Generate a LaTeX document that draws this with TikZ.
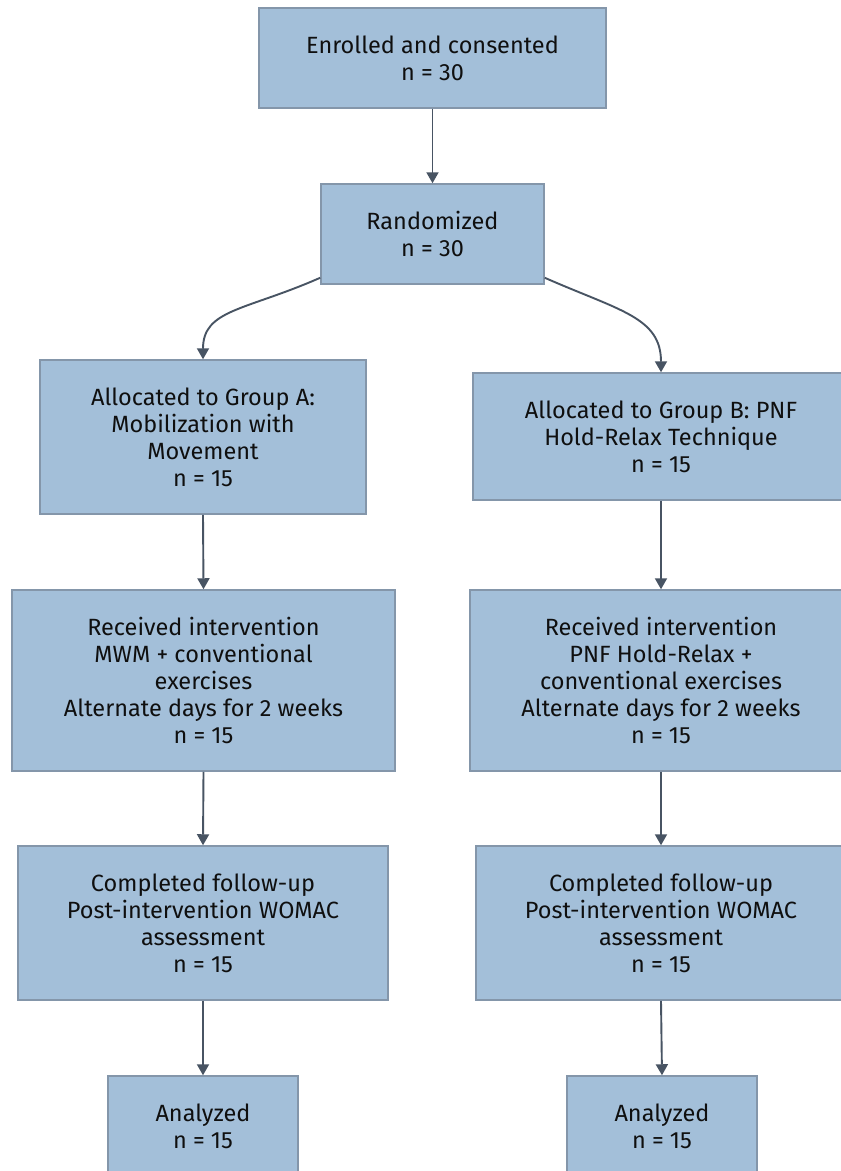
\documentclass[tikz,border=0pt]{standalone}
\usepackage{fontspec}
\setmainfont{Fira Sans}
\usetikzlibrary{arrows.meta}
\definecolor{boxfill}{RGB}{163,191,217}
\definecolor{boxline}{RGB}{132,150,170}
\definecolor{arrowc}{RGB}{72,84,99}
\definecolor{txt}{RGB}{15,15,15}
\begin{document}
\begin{tikzpicture}[x=1pt,y=-1pt,
  box/.style={draw=boxline,line width=1.5pt,fill=boxfill,align=center,
    text=txt,inner sep=0pt,
    font=\fontsize{23.5}{27}\selectfont},
  arr/.style={draw=arrowc,line width=1.9pt,-{Triangle[length=11pt,width=12pt]}}]
\useasboundingbox (0,0) rectangle (841,1171);
\clip (0,0) rectangle (841,1171);
\fill[white] (0,0) rectangle (841,1171);
\node[box,minimum width=347,minimum height=100] (enr) at (432.5,58) {Enrolled and consented\\n = 30};
\node[box,minimum width=223,minimum height=100] (rand) at (432.5,234) {Randomized\\n = 30};
\node[box,minimum width=326,minimum height=154] (ga) at (203,437) {Allocated to Group A:\\Mobilization with\\Movement\\n = 15};
\node[box,minimum width=376,minimum height=127] (gb) at (661,436.5) {Allocated to Group B: PNF\\Hold-Relax Technique\\n = 15};
\node[box,minimum width=383,minimum height=181] (ra) at (203.5,680.5) {Received intervention\\MWM + conventional\\exercises\\Alternate days for 2 weeks\\n = 15};
\node[box,minimum width=382,minimum height=181] (rb) at (661,680.5) {Received intervention\\PNF Hold-Relax +\\conventional exercises\\Alternate days for 2 weeks\\n = 15};
\node[box,minimum width=370,minimum height=154] (ca) at (203,923) {Completed follow-up\\Post-intervention WOMAC\\assessment\\n = 15};
\node[box,minimum width=370,minimum height=154] (cb) at (661,923) {Completed follow-up\\Post-intervention WOMAC\\assessment\\n = 15};
\node[box,minimum width=190,minimum height=100] (aa) at (203,1126) {Analyzed\\n = 15};
\node[box,minimum width=190,minimum height=100] (ab) at (662,1126) {Analyzed\\n = 15};
\draw[arr] (enr.south) -- (rand.north);
\draw[arr] ([yshift=7]rand.south west) .. controls +(-75,33) and +(0,-50) .. (ga.north);
\draw[arr] ([yshift=7]rand.south east) .. controls +(75,33) and +(0,-55) .. (gb.north);
\draw[arr] (ga.south) -- (ra.north);
\draw[arr] (gb.south) -- (rb.north);
\draw[arr] (ra.south) -- (ca.north);
\draw[arr] (rb.south) -- (cb.north);
\draw[arr] (ca.south) -- (aa.north);
\draw[arr] (cb.south) -- (ab.north);
\end{tikzpicture}
\end{document}
